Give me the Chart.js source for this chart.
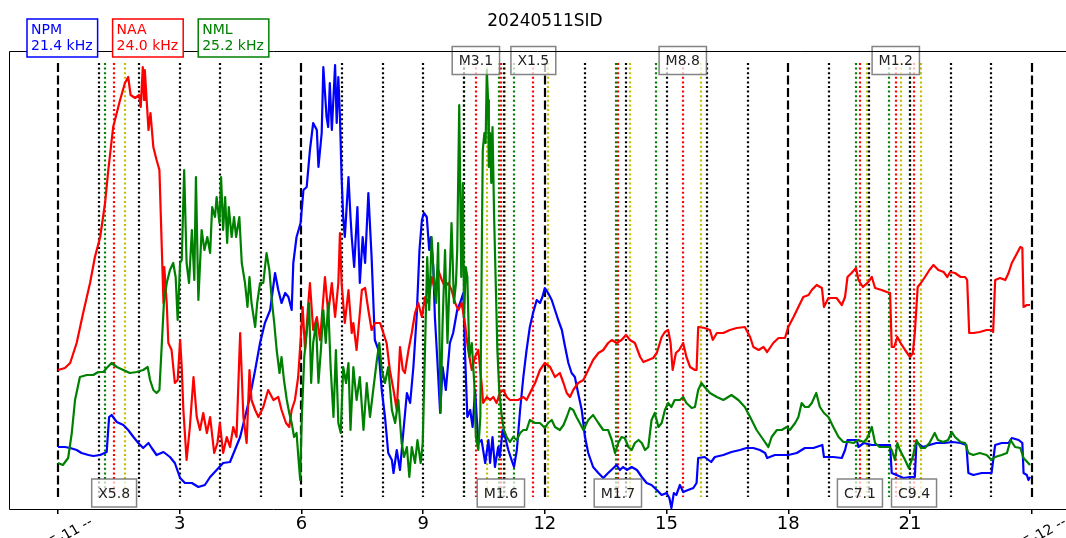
<!DOCTYPE html>
<html>
<head>
<meta charset="utf-8">
<script src="https://cdn.jsdelivr.net/npm/chart.js@4/dist/chart.umd.min.js"></script>
<style>
  html, body { margin: 0; padding: 0; background: #fff; overflow: hidden; }
  #wrap { width: 1066px; height: 538px; position: relative; }
</style>
</head>
<body>
<div id="wrap"><canvas id="sid" width="1066" height="538"></canvas></div>
<script>
// Sudden ionospheric disturbance record, 2024-05-11 (UTC hours, relative amplitude)
const TITLE = '20240511SID';
const STATIONS = ['NPM', 'NAA', 'NML'];
const FREQS = ['21.4 kHz', '24.0 kHz', '25.2 kHz'];
const COLORS = ['#0000ff', '#ff0000', '#008000'];

const NPM = [[0,6.2],[0.17,6.2],[0.30,6.1],[0.46,5.9],[0.58,5.6],[0.75,5.4],[0.87,5.3],[1.04,5.4],[1.20,5.7],[1.26,9.2],[1.32,9.4],[1.45,8.7],[1.61,8.4],[1.73,7.9],[1.86,7.2],[1.98,6.6],[2.10,6.1],[2.23,6.6],[2.31,6.1],[2.43,5.4],[2.60,5.7],[2.76,5.2],[2.88,4.6],[3.01,3.1],[3.13,2.6],[3.30,2.6],[3.46,2.2],[3.62,2.4],[3.75,3.2],[3.91,3.9],[4.07,4.6],[4.24,4.7],[4.36,5.9],[4.49,7.2],[4.61,9.2],[4.73,11.2],[4.86,13.9],[4.98,16.6],[5.10,18.6],[5.23,19.9],[5.35,23.6],[5.43,21.9],[5.51,20.6],[5.60,21.6],[5.68,21.2],[5.76,19.9],[5.80,24.6],[5.88,27.2],[5.98,28.6],[6.05,31.9],[6.13,32.2],[6.21,35.9],[6.29,38.6],[6.38,37.9],[6.42,34.2],[6.50,37.6],[6.54,44.2],[6.62,39.2],[6.66,38.2],[6.70,42.6],[6.75,37.9],[6.83,44.4],[6.87,38.6],[6.91,43.2],[6.95,39.2],[6.99,33.2],[7.03,29.2],[7.07,27.2],[7.16,33.2],[7.21,29.2],[7.24,27.2],[7.30,24.2],[7.38,30.2],[7.44,22.6],[7.51,27.2],[7.57,24.6],[7.65,31.6],[7.73,25.2],[7.81,16.9],[7.90,15.9],[7.98,11.9],[8.06,9.2],[8.14,5.6],[8.23,4.9],[8.27,3.6],[8.35,5.9],[8.43,3.9],[8.51,7.6],[8.60,11.6],[8.68,10.6],[8.76,14.2],[8.84,19.2],[8.91,25.9],[8.97,28.9],[9.02,29.6],[9.09,29.2],[9.15,25.9],[9.19,27.2],[9.25,24.2],[9.29,19.2],[9.35,14.9],[9.42,9.6],[9.48,14.2],[9.56,11.9],[9.66,16.6],[9.74,17.6],[9.84,19.9],[9.91,20.6],[9.99,21.6],[10.03,15.9],[10.09,9.2],[10.16,9.9],[10.22,8.2],[10.28,11.9],[10.36,6.6],[10.44,6.9],[10.53,4.6],[10.61,6.9],[10.65,4.6],[10.71,7.2],[10.77,4.2],[10.85,6.2],[10.89,5.2],[10.96,7.9],[11.02,7.2],[11.10,5.9],[11.18,4.9],[11.24,4.2],[11.31,5.9],[11.39,9.9],[11.47,13.2],[11.55,15.9],[11.63,18.2],[11.71,19.6],[11.80,20.9],[11.88,20.6],[11.94,21.2],[12.00,22.1],[12.08,21.6],[12.17,20.9],[12.25,19.9],[12.33,18.9],[12.42,17.9],[12.50,16.2],[12.58,14.6],[12.66,13.6],[12.74,13.2],[12.82,11.6],[12.91,9.9],[12.99,7.2],[13.07,5.6],[13.19,4.2],[13.32,3.6],[13.44,3.1],[13.56,3.6],[13.69,4.1],[13.77,4.4],[13.85,3.9],[13.93,4.2],[14.02,3.9],[14.14,4.2],[14.27,3.9],[14.39,3.2],[14.51,2.6],[14.63,2.4],[14.76,1.9],[14.88,1.4],[15.00,1.6],[15.07,1.1],[15.12,0.1],[15.18,1.6],[15.24,1.4],[15.33,2.4],[15.41,1.7],[15.53,1.9],[15.66,2.1],[15.74,2.6],[15.78,5.1],[15.94,5.2],[16.10,4.7],[16.19,5.2],[16.40,5.4],[16.60,5.7],[16.81,5.9],[16.97,6.1],[17.14,6.1],[17.30,5.9],[17.43,5.6],[17.48,5.1],[17.67,5.4],[17.84,5.4],[18.00,5.4],[18.21,5.6],[18.41,6.1],[18.62,6.1],[18.84,6.4],[18.88,5.2],[19.11,5.2],[19.32,5.1],[19.40,5.9],[19.46,6.9],[19.69,6.9],[19.73,6.2],[19.86,6.6],[20.06,6.4],[20.30,6.4],[20.51,6.4],[20.55,3.6],[20.67,3.4],[20.84,3.1],[21.00,3.2],[21.12,3.2],[21.16,6.7],[21.32,6.2],[21.48,6.4],[21.65,6.6],[21.85,6.6],[22.05,6.7],[22.25,6.6],[22.39,6.4],[22.44,3.6],[22.56,3.4],[22.77,3.6],[23.01,3.6],[23.10,6.4],[23.26,6.6],[23.43,6.6],[23.51,7.1],[23.68,6.9],[23.77,6.6],[23.80,3.6],[23.88,3.4],[23.92,2.9],[23.96,3.2]];

const NAA = [[0,13.9],[0.17,14.1],[0.30,14.6],[0.46,16.6],[0.62,19.6],[0.79,22.6],[0.91,25.2],[1.04,27.2],[1.16,30.6],[1.24,33.9],[1.36,38.2],[1.53,40.9],[1.65,42.6],[1.73,43.2],[1.79,41.4],[1.90,41.1],[2.00,41.4],[2.04,40.2],[2.09,44.2],[2.12,40.9],[2.14,43.9],[2.19,40.6],[2.23,37.9],[2.28,39.6],[2.35,36.2],[2.43,34.9],[2.50,33.9],[2.56,25.9],[2.60,20.6],[2.62,24.2],[2.68,20.6],[2.72,16.6],[2.80,15.9],[2.88,12.6],[2.95,12.9],[3.01,16.9],[3.05,14.2],[3.09,9.9],[3.17,4.9],[3.25,8.2],[3.34,13.2],[3.42,9.2],[3.50,7.9],[3.58,9.6],[3.67,7.6],[3.75,9.2],[3.85,5.6],[3.93,6.6],[3.99,8.6],[4.07,5.6],[4.16,7.2],[4.24,6.2],[4.32,8.2],[4.40,7.2],[4.49,17.6],[4.57,9.2],[4.65,6.6],[4.72,13.9],[4.77,10.9],[4.86,9.9],[4.94,9.2],[5.06,10.2],[5.18,11.9],[5.31,10.9],[5.43,11.2],[5.51,9.9],[5.62,8.6],[5.70,8.2],[5.76,9.9],[5.84,10.9],[5.92,13.2],[5.98,16.9],[6.03,20.2],[6.09,15.9],[6.17,20.6],[6.21,22.6],[6.29,17.9],[6.38,19.2],[6.46,16.9],[6.58,23.2],[6.66,19.6],[6.75,22.6],[6.83,19.2],[6.91,22.6],[6.95,27.6],[6.99,22.6],[7.07,18.6],[7.16,21.9],[7.24,17.6],[7.28,18.6],[7.36,15.9],[7.49,21.9],[7.57,22.1],[7.65,19.9],[7.73,17.9],[7.81,18.6],[7.94,18.6],[8.02,17.6],[8.10,16.6],[8.18,13.9],[8.27,11.9],[8.35,9.9],[8.39,12.9],[8.43,16.2],[8.50,13.9],[8.55,13.6],[8.64,15.9],[8.72,17.6],[8.80,19.6],[8.88,20.6],[8.97,19.2],[9.05,21.2],[9.13,20.6],[9.21,23.2],[9.29,21.9],[9.37,23.9],[9.46,22.9],[9.54,22.2],[9.62,22.6],[9.70,21.9],[9.79,20.6],[9.87,19.9],[9.95,20.6],[10.03,18.6],[10.11,15.9],[10.20,13.9],[10.28,15.2],[10.36,15.9],[10.44,12.6],[10.48,10.6],[10.57,11.2],[10.65,10.9],[10.73,11.2],[10.81,10.6],[10.89,11.6],[10.98,11.9],[11.06,11.2],[11.14,10.9],[11.22,10.9],[11.34,10.9],[11.47,11.2],[11.55,10.9],[11.67,11.9],[11.76,12.6],[11.88,13.9],[12.00,14.6],[12.13,14.2],[12.25,13.2],[12.37,13.6],[12.46,12.6],[12.54,11.6],[12.62,11.2],[12.70,11.9],[12.82,12.6],[12.95,12.9],[13.07,13.9],[13.19,14.9],[13.32,15.6],[13.44,15.9],[13.56,16.6],[13.65,16.9],[13.77,16.6],[13.89,16.9],[14.00,17.4],[14.10,16.9],[14.22,16.6],[14.35,15.2],[14.43,14.7],[14.55,14.9],[14.67,15.1],[14.76,15.6],[14.88,17.2],[14.96,17.7],[15.04,17.9],[15.10,16.6],[15.15,13.9],[15.23,15.6],[15.31,15.9],[15.41,16.6],[15.49,15.2],[15.58,14.2],[15.70,13.9],[15.74,13.9],[15.78,18.2],[15.94,18.1],[16.07,17.9],[16.14,16.9],[16.24,17.6],[16.40,17.6],[16.56,17.9],[16.73,18.1],[16.93,18.2],[17.06,17.2],[17.14,16.2],[17.27,15.9],[17.39,16.2],[17.48,15.7],[17.63,16.6],[17.76,17.1],[17.92,17.1],[18.00,18.2],[18.13,19.2],[18.25,20.2],[18.37,21.2],[18.50,21.4],[18.58,21.9],[18.70,22.4],[18.83,22.1],[18.88,20.2],[18.99,21.1],[19.19,21.1],[19.32,20.4],[19.40,21.2],[19.46,23.2],[19.56,23.6],[19.67,24.1],[19.73,22.9],[19.84,22.2],[19.97,22.7],[20.06,23.2],[20.14,22.1],[20.30,21.9],[20.43,21.7],[20.51,21.6],[20.55,16.2],[20.61,16.2],[20.69,17.2],[20.77,16.6],[20.88,15.9],[21.00,15.2],[21.07,15.6],[21.12,17.6],[21.19,22.2],[21.27,22.6],[21.37,23.2],[21.48,23.9],[21.58,24.4],[21.70,23.9],[21.83,23.7],[21.92,23.2],[21.99,23.7],[22.11,23.6],[22.25,23.2],[22.36,23.2],[22.41,22.9],[22.46,17.6],[22.56,17.6],[22.72,17.7],[22.89,17.9],[23.01,17.9],[23.05,17.7],[23.10,22.9],[23.22,23.1],[23.35,22.9],[23.43,23.6],[23.51,24.6],[23.59,25.2],[23.72,26.2],[23.77,26.1],[23.80,20.2],[23.88,20.4],[23.96,20.4]];

const NML = [[0,4.6],[0.12,4.4],[0.25,5.1],[0.34,7.6],[0.42,10.9],[0.54,13.2],[0.71,13.4],[0.87,13.4],[0.99,13.7],[1.12,13.7],[1.20,14.1],[1.32,14.6],[1.45,14.2],[1.61,13.9],[1.77,13.6],[1.94,13.7],[2.10,13.9],[2.21,14.2],[2.27,12.9],[2.35,11.9],[2.43,11.6],[2.50,11.9],[2.56,16.6],[2.61,20.6],[2.68,22.6],[2.76,23.9],[2.84,24.6],[2.90,23.2],[2.95,18.9],[3.01,24.6],[3.05,24.9],[3.11,33.9],[3.17,24.6],[3.23,22.6],[3.30,27.9],[3.36,22.9],[3.40,33.2],[3.46,20.9],[3.54,27.9],[3.61,25.9],[3.68,27.2],[3.75,25.6],[3.80,30.2],[3.87,29.2],[3.91,31.2],[3.98,28.6],[4.02,33.2],[4.07,27.9],[4.12,31.2],[4.17,26.6],[4.21,30.2],[4.28,27.2],[4.34,29.2],[4.39,27.2],[4.47,29.2],[4.53,24.6],[4.61,22.6],[4.67,20.2],[4.72,23.2],[4.77,20.6],[4.86,18.2],[4.91,20.6],[4.98,22.6],[5.06,22.6],[5.14,25.6],[5.21,23.9],[5.27,20.9],[5.33,18.6],[5.39,15.9],[5.46,13.6],[5.51,15.2],[5.57,12.9],[5.64,10.9],[5.70,9.6],[5.76,8.6],[5.82,7.2],[5.88,7.6],[5.93,4.9],[5.97,2.9],[6.01,9.2],[6.07,15.2],[6.13,17.6],[6.19,20.6],[6.24,12.6],[6.29,16.6],[6.36,18.6],[6.42,12.6],[6.48,15.9],[6.54,19.9],[6.60,16.6],[6.66,20.6],[6.72,14.2],[6.79,9.2],[6.85,15.9],[6.91,8.6],[6.97,7.6],[7.03,14.2],[7.10,12.6],[7.16,14.6],[7.21,7.9],[7.28,14.2],[7.36,10.9],[7.44,13.2],[7.53,7.9],[7.61,12.6],[7.69,9.2],[7.77,11.9],[7.86,14.9],[7.92,16.6],[7.98,13.9],[8.06,12.6],[8.14,14.2],[8.23,9.9],[8.31,8.6],[8.39,10.9],[8.47,6.6],[8.53,5.2],[8.60,6.2],[8.66,3.2],[8.72,6.2],[8.80,4.6],[8.86,6.9],[8.94,4.6],[8.99,6.6],[9.05,16.6],[9.10,25.2],[9.15,19.9],[9.21,27.2],[9.27,22.6],[9.32,20.6],[9.37,26.6],[9.43,9.6],[9.48,18.6],[9.54,25.9],[9.60,16.6],[9.65,22.6],[9.70,28.6],[9.76,20.6],[9.81,22.6],[9.84,25.9],[9.89,40.4],[9.94,23.2],[9.98,32.6],[10.01,19.2],[10.05,24.2],[10.09,23.2],[10.14,15.2],[10.20,16.6],[10.26,12.6],[10.30,7.2],[10.36,5.9],[10.41,9.2],[10.45,27.6],[10.47,35.9],[10.51,37.6],[10.54,36.6],[10.57,43.9],[10.60,40.9],[10.62,34.2],[10.65,37.6],[10.68,32.6],[10.71,38.2],[10.75,29.2],[10.79,22.6],[10.83,15.9],[10.88,11.6],[10.94,9.2],[10.99,7.9],[11.06,7.2],[11.14,6.7],[11.22,7.2],[11.31,6.9],[11.39,7.6],[11.47,7.9],[11.55,7.9],[11.63,8.9],[11.76,8.6],[11.88,8.6],[12.00,8.1],[12.08,8.6],[12.17,8.9],[12.25,8.2],[12.37,7.9],[12.46,8.4],[12.54,9.2],[12.62,10.1],[12.70,9.9],[12.78,9.2],[12.86,8.6],[12.95,7.9],[13.07,8.9],[13.19,9.4],[13.32,8.6],[13.44,7.9],[13.56,7.9],[13.65,6.9],[13.73,5.6],[13.81,6.6],[13.89,7.2],[13.97,7.1],[14.06,6.2],[14.14,5.9],[14.22,6.6],[14.31,6.9],[14.39,6.6],[14.47,5.9],[14.55,6.2],[14.63,8.9],[14.71,9.6],[14.80,8.2],[14.88,8.6],[14.96,9.9],[15.04,10.6],[15.12,10.2],[15.20,10.9],[15.33,10.9],[15.41,11.2],[15.49,10.6],[15.62,10.1],[15.70,10.2],[15.78,11.9],[15.86,12.6],[15.94,12.2],[16.07,11.6],[16.24,11.2],[16.40,10.9],[16.60,11.4],[16.77,10.9],[16.93,10.2],[17.06,9.2],[17.22,7.9],[17.39,6.9],[17.51,6.2],[17.59,7.2],[17.72,7.9],[17.84,7.9],[17.96,8.2],[18.04,7.9],[18.17,8.6],[18.25,9.2],[18.33,10.6],[18.41,10.2],[18.50,10.2],[18.58,10.6],[18.69,11.6],[18.78,10.2],[18.88,9.6],[18.99,9.2],[19.11,8.2],[19.24,7.2],[19.36,6.7],[19.48,6.7],[19.61,6.6],[19.73,6.9],[19.86,6.7],[19.95,7.1],[20.06,8.2],[20.14,6.6],[20.25,6.2],[20.37,6.2],[20.50,6.2],[20.55,5.9],[20.63,4.9],[20.69,6.6],[20.75,5.9],[20.88,4.9],[20.97,4.1],[21.07,5.2],[21.16,6.9],[21.27,6.1],[21.37,6.1],[21.48,6.6],[21.61,7.6],[21.69,6.9],[21.82,6.7],[21.94,6.9],[22.03,7.7],[22.11,7.2],[22.25,6.7],[22.36,6.6],[22.44,5.6],[22.56,5.4],[22.72,5.6],[22.89,5.4],[23.01,4.9],[23.10,5.2],[23.26,5.4],[23.39,5.6],[23.48,6.9],[23.59,6.2],[23.72,6.1],[23.80,5.1],[23.96,4.4]];

// x axis ticks (UTC hour)
const TICK_HOURS = [0, 3, 6, 9, 12, 15, 18, 21, 24];
const TICK_LABELS = ['', '3', '6', '9', '12', '15', '18', '21', ''];
const DATE_HOURS = [0, 24];
const DATE_LABELS = ['2024-05-11 --', '2024-05-12 --'];

// GOES flare events of the day
const FLARE_CLASS = ['X5.8', 'M3.1', 'M1.6', 'X1.5', 'M1.7', 'M8.8', 'C7.1', 'M1.2', 'C9.4'];
const FLARE_START = ['01:10', '10:00', '10:52', '11:14', '13:45', '14:44', '19:40', '20:29', '21:00'];
const FLARE_PEAK  = ['01:23', '10:18', '10:55', '11:43', '13:48', '15:24', '19:46', '20:39', '21:06'];
const FLARE_END   = ['01:39', '10:34', '11:01', '12:05', '14:06', '15:51', '19:56', '20:46', '21:17'];

const toHours = t => { const [h, m] = t.split(':').map(Number); return h + m / 60; };
const FONT = '"DejaVu Sans", "Liberation Sans", sans-serif';
const DOT = [2, 2.6];
const DASH = [9, 3.5];

const sidPlugin = {
  id: 'sidDecor',
  beforeDatasetsDraw(chart) {
    const { ctx, chartArea: a, scales: { x, y } } = chart;
    const yTop = y.getPixelForValue(44.6), yBot = y.getPixelForValue(1.2);
    ctx.save();
    ctx.beginPath();
    ctx.rect(a.left, a.top, a.right - a.left, a.bottom - a.top);
    ctx.clip();
    ctx.lineWidth = 2.2;
    const vline = (h, color, dash) => {
      const px = Math.round(x.getPixelForValue(h));
      ctx.strokeStyle = color;
      ctx.setLineDash(dash);
      ctx.beginPath();
      ctx.moveTo(px, yTop);
      ctx.lineTo(px, yBot);
      ctx.stroke();
    };
    FLARE_START.forEach(t => vline(toHours(t), '#008000', DOT));
    FLARE_PEAK.forEach(t => vline(toHours(t), '#ff0000', DOT));
    FLARE_END.forEach(t => vline(toHours(t), '#bfbf00', DOT));
    for (let h = 0; h <= 24; h++) vline(h, '#000000', h % 6 === 0 ? DASH : DOT);
    ctx.restore();
  },
  afterDatasetsDraw(chart) {
    const { ctx, chartArea: a, scales: { x } } = chart;
    ctx.save();

    // flare class boxes, alternating bottom / top
    ctx.font = '14px ' + FONT;
    ctx.textAlign = 'center';
    ctx.textBaseline = 'middle';
    FLARE_CLASS.forEach((c, i) => {
      const px = x.getPixelForValue(toHours(FLARE_PEAK[i]));
      const w = ctx.measureText(c).width + 13, h = 28;
      const cy = i % 2 === 0 ? a.bottom - 16 : a.top + 9.5;
      ctx.fillStyle = 'rgba(255,255,255,0.7)';
      ctx.fillRect(px - w / 2, cy - h / 2, w, h);
      ctx.strokeStyle = 'rgba(110,110,110,0.85)';
      ctx.lineWidth = 1.5;
      ctx.setLineDash([]);
      ctx.strokeRect(px - w / 2, cy - h / 2, w, h);
      ctx.fillStyle = '#222';
      ctx.fillText(c, px, cy + 1);
    });

    // axes frame (left, top, bottom)
    ctx.strokeStyle = '#000';
    ctx.lineWidth = 1;
    ctx.beginPath();
    ctx.moveTo(a.right, a.top + 0.5);
    ctx.lineTo(a.left - 0.5, a.top + 0.5);
    ctx.lineTo(a.left - 0.5, a.bottom + 0.5);
    ctx.lineTo(a.right, a.bottom + 0.5);
    ctx.stroke();

    // station legend boxes
    ctx.textAlign = 'left';
    ctx.textBaseline = 'alphabetic';
    let left = 27;
    STATIONS.forEach((s, i) => {
      const w = Math.max(ctx.measureText(s).width, ctx.measureText(FREQS[i]).width) + 9;
      ctx.fillStyle = '#fff';
      ctx.fillRect(left, 19, w, 38);
      ctx.strokeStyle = COLORS[i];
      ctx.lineWidth = 1.5;
      ctx.strokeRect(left, 19, w, 38);
      ctx.fillStyle = COLORS[i];
      ctx.fillText(s, left + 4, 34);
      ctx.fillText(FREQS[i], left + 4, 50);
      left += w + 15;
    });

    // title
    ctx.font = '17px ' + FONT;
    ctx.textAlign = 'center';
    ctx.fillStyle = '#000';
    ctx.fillText(TITLE, 545, 26);

    // rotated date labels
    ctx.font = '14px ' + FONT;
    DATE_HOURS.forEach((h, i) => {
      const px = x.getPixelForValue(h);
      ctx.save();
      ctx.translate(px - 8, 545);
      ctx.rotate(-Math.PI / 6);
      ctx.textAlign = 'center';
      ctx.textBaseline = 'middle';
      ctx.fillStyle = '#000';
      ctx.fillText(DATE_LABELS[i], 0, 0);
      ctx.restore();
    });
    ctx.restore();
  }
};

const series = (data, i, order) => ({
  label: STATIONS[i],
  data: data.map(([h, v]) => ({ x: h, y: v })),
  borderColor: COLORS[i],
  borderWidth: 2.2,
  borderJoinStyle: 'round',
  pointRadius: 0,
  fill: false,
  tension: 0,
  order
});

new Chart(document.getElementById('sid'), {
  type: 'line',
  data: { datasets: [series(NPM, 0, 2), series(NAA, 1, 1), series(NML, 2, 0)] },
  options: {
    responsive: false,
    animation: false,
    devicePixelRatio: 1,
    layout: { padding: { left: 10, right: 0, top: 51, bottom: 0 } },
    plugins: { legend: { display: false }, title: { display: false }, tooltip: { enabled: false } },
    scales: {
      x: {
        type: 'linear',
        min: -1.183,
        max: 24.846,
        afterBuildTicks: s => { s.ticks = TICK_HOURS.map(v => ({ value: v })); },
        afterFit: s => { s.height = 29; },
        ticks: {
          autoSkip: false,
          maxRotation: 0,
          padding: 0,
          color: '#000',
          font: { family: FONT, size: 18 },
          callback: v => TICK_LABELS[TICK_HOURS.indexOf(v)]
        },
        grid: { drawOnChartArea: false, drawTicks: true, tickLength: 5, color: '#000', lineWidth: 1.5 },
        border: { display: false }
      },
      y: { display: false, min: 0, max: 45.8 }
    }
  },
  plugins: [sidPlugin]
});
</script>
</body>
</html>
